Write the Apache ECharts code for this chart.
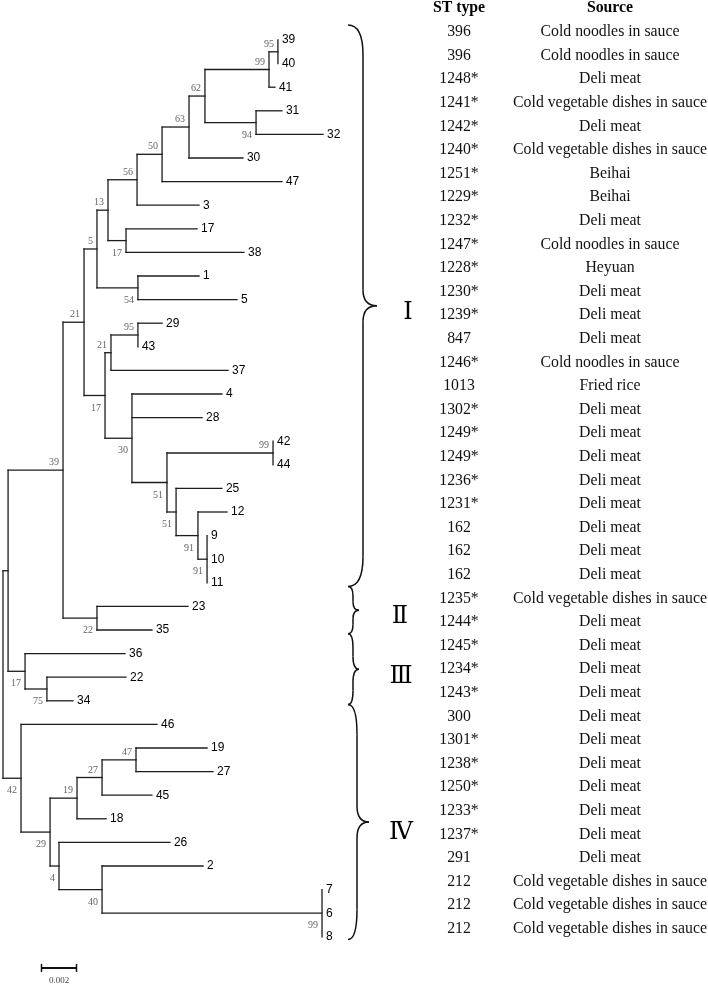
<!DOCTYPE html>
<html><head><meta charset="utf-8">
<script src="https://cdn.jsdelivr.net/npm/echarts@6/dist/echarts.min.js"></script>
<style>html,body{margin:0;padding:0;background:#fff}#c{width:708px;height:986px}</style>
</head><body><div id="c"></div><script>
// ---------- DATA ----------
// Leaves, top to bottom
const leafNames = ['39','40','41','31','32','30','47','3','17','38','1','5','29','43','37','4','28','42','44','25','12','9','10','11','23','35','36','22','34','46','19','27','45','18','26','2','7','6','8'];
const leafParent = ['N95a','N95a','N99a','N94','N94','N63','N50','N56','N17a','N17a','N54','N54','N95b','N95b','N21b','N30','N30','N99b','N99b','N51b','N91a','N91b','N91b','N91b','N22','N22','N17c','N75','N75','N42','N47','N47','N27','N19','N4','N40','N99c','N99c','N99c'];
// cumulative distance from root (substitutions/site)
const leafDepth = [0.01571,0.01571,0.01554,0.01594,0.01829,0.01371,0.01594,0.01120,0.01109,0.01377,0.01120,0.01337,0.00909,0.00771,0.01286,0.01251,0.01137,0.01543,0.01543,0.01251,0.01280,0.01166,0.01166,0.01166,0.01057,0.00851,0.00697,0.00703,0.00400,0.00880,0.01166,0.01200,0.00851,0.00589,0.00954,0.01143,0.01823,0.01823,0.01823];
// Internal nodes
const nodeIds = ['root','NX','N39','N21','N5','N13','N56','N50','N63','N62','N99a','N95a','N94','N17a','N54','N17b','N21b','N95b','N30','N51a','N99b','N51b','N91a','N91b','N22','N17c','N75','N42','N29','N19','N27','N47','N4','N40','N99c'];
const nodeParent = [null,'root','NX','N39','N21','N5','N13','N56','N50','N63','N62','N99a','N62','N13','N5','N21','N17b','N21b','N17b','N30','N51a','N51a','N51b','N91a','N39','NX','N17c','root','N42','N29','N19','N27','N29','N4','N40'];
const nodeDepth = [0,0.00029,0.00343,0.00463,0.00537,0.00600,0.00766,0.00909,0.01063,0.01154,0.01520,0.01571,0.01446,0.00703,0.00771,0.00583,0.00617,0.00771,0.00737,0.00937,0.01543,0.00989,0.01114,0.01166,0.00537,0.00126,0.00251,0.00103,0.00269,0.00423,0.00566,0.00760,0.00320,0.00566,0.01823];
const nodeBootstrap = [null,null,39,21,5,13,56,50,63,62,99,95,94,17,54,17,21,95,30,51,99,51,91,91,22,17,75,42,29,19,27,47,4,40,99];
// Table
const tableHeaders = ['ST type','Source'];
const stTypes = ['396','396','1248*','1241*','1242*','1240*','1251*','1229*','1232*','1247*','1228*','1230*','1239*','847','1246*','1013','1302*','1249*','1249*','1236*','1231*','162','162','162','1235*','1244*','1245*','1234*','1243*','300','1301*','1238*','1250*','1233*','1237*','291','212','212','212'];
const sources = ['Cold noodles in sauce','Cold noodles in sauce','Deli meat','Cold vegetable dishes in sauce','Deli meat','Cold vegetable dishes in sauce','Beihai','Beihai','Deli meat','Cold noodles in sauce','Heyuan','Deli meat','Deli meat','Deli meat','Cold noodles in sauce','Fried rice','Deli meat','Deli meat','Deli meat','Deli meat','Deli meat','Deli meat','Deli meat','Deli meat','Cold vegetable dishes in sauce','Deli meat','Deli meat','Deli meat','Deli meat','Deli meat','Deli meat','Deli meat','Deli meat','Deli meat','Deli meat','Deli meat','Cold vegetable dishes in sauce','Cold vegetable dishes in sauce','Cold vegetable dishes in sauce'];
// Clusters (brace extents in table-row units)
const cladeNames = ['\u2160','\u2161','\u2162','\u2163'];
const cladeTop = [-0.3, 23.5, 25.5, 28.5];
const cladeBottom = [23.5, 25.5, 28.5, 38.45];
// Scale bar
const scaleBarLength = 0.002;
const scaleBarLabel = '0.002';

// ---------- STYLE ----------
const S = {
  line: '#1c1c1c', lw: 1.3,
  leafFont: 'Liberation Sans, Arial, sans-serif', leafSize: 12,
  bootFont: 'Liberation Serif, Times New Roman, serif', bootSize: 10, bootColor: '#666',
  tabFont: 'Liberation Serif, Times New Roman, serif', tabSize: 15.8,
  rowShift: -0.34,
  colX: [459, 610],
  braceHookX: 348, braceVX: [363, 353, 353, 357], braceTipX: [377, 359, 359, 369],
  romanX: [408, 400, 401, 401], romanDy: [7, 7, 8, 11], romanSize: 24,
  scaleX0: 0.0022, scaleRow: 39.32
};

// ---------- TREE LAYOUT ----------
const idx = {}; nodeIds.forEach((id, i) => idx[id] = i);
const kids = nodeIds.map(() => []);
leafNames.forEach((n, i) => kids[idx[leafParent[i]]].push({leaf: true, i}));
nodeParent.forEach((p, i) => { if (p) kids[idx[p]].push({leaf: false, i}); });
const nodeY = new Array(nodeIds.length);
const childY = nodeIds.map(() => []);
function yOf(i) {
  if (nodeY[i] !== undefined) return nodeY[i];
  const ys = kids[i].map(k => k.leaf ? k.i : yOf(k.i));
  childY[i] = ys;
  nodeY[i] = (Math.min(...ys) + Math.max(...ys)) / 2;
  return nodeY[i];
}
nodeIds.forEach((_, i) => yOf(i));

const segments = [];
leafNames.forEach((n, i) => {
  const p = idx[leafParent[i]];
  segments.push([nodeDepth[p], i, leafDepth[i], i]);
});
nodeIds.forEach((id, i) => {
  const ys = childY[i];
  segments.push([nodeDepth[i], Math.min(...ys), nodeDepth[i], Math.max(...ys)]);
  if (nodeParent[i]) {
    const p = idx[nodeParent[i]];
    segments.push([nodeDepth[p], nodeY[i], nodeDepth[i], nodeY[i]]);
  }
});

const bootData = [], bootText = [], bootAbove = [];
nodeIds.forEach((id, i) => {
  if (nodeBootstrap[i] == null) return;
  const p = idx[nodeParent[i]];
  bootData.push([nodeDepth[i], nodeY[i]]);
  bootText.push(String(nodeBootstrap[i]));
  bootAbove.push(nodeY[i] < nodeY[p]);
});

const chart = echarts.init(document.getElementById('c'), null, {renderer: 'canvas'});
const txt = (x, y, text, o) => ({type: 'text', style: Object.assign({x, y, text, align: 'left', verticalAlign: 'middle', fill: '#000'}, o)});

chart.setOption({
  backgroundColor: '#fff',
  animation: false,
  grid: {left: 3, top: 16.4, width: 700, height: 967.6, containLabel: false},
  xAxis: {type: 'value', min: 0, max: 0.04, show: false},
  yAxis: {type: 'value', min: -1, max: 40, inverse: true, show: false},
  series: [
    { // branches
      type: 'custom', clip: false, data: segments,
      renderItem: (p, api) => {
        const a = api.coord([api.value(0), api.value(1)]);
        const b = api.coord([api.value(2), api.value(3)]);
        return {type: 'line', shape: {x1: a[0], y1: a[1], x2: b[0], y2: b[1]},
          style: {stroke: S.line, lineWidth: S.lw, lineCap: 'square'}};
      }
    },
    { // leaf labels
      type: 'custom', clip: false, data: leafNames.map((n, i) => [leafDepth[i], i]),
      renderItem: (p, api) => {
        const a = api.coord([api.value(0), api.value(1)]);
        return txt(a[0] + 4, a[1], leafNames[p.dataIndex], {fontFamily: S.leafFont, fontSize: S.leafSize});
      }
    },
    { // bootstrap values
      type: 'custom', clip: false, data: bootData,
      renderItem: (p, api) => {
        const a = api.coord([api.value(0), api.value(1)]);
        const up = bootAbove[p.dataIndex];
        return txt(a[0] - 4, a[1] + (up ? -7.5 : 12.5), bootText[p.dataIndex],
          {align: 'right', fontFamily: S.bootFont, fontSize: S.bootSize, fill: S.bootColor});
      }
    },
    { // table
      type: 'custom', clip: false, data: stTypes.map((s, i) => [0, i]),
      renderItem: (p, api) => {
        const y = api.coord([0, api.value(1) + S.rowShift])[1];
        const i = p.dataIndex;
        const children = [
          txt(S.colX[0], y, stTypes[i], {align: 'center', fontFamily: S.tabFont, fontSize: S.tabSize, fill: '#111'}),
          txt(S.colX[1], y, sources[i], {align: 'center', fontFamily: S.tabFont, fontSize: S.tabSize, fill: '#111'})
        ];
        if (i === 0) {
          const yh = api.coord([0, -1 + S.rowShift])[1];
          children.push(txt(S.colX[0], yh, tableHeaders[0], {align: 'center', fontFamily: S.tabFont, fontSize: S.tabSize, fontWeight: 'bold', fill: '#000'}));
          children.push(txt(S.colX[1], yh, tableHeaders[1], {align: 'center', fontFamily: S.tabFont, fontSize: S.tabSize, fontWeight: 'bold', fill: '#000'}));
        }
        return {type: 'group', children};
      }
    },
    { // braces + cluster names
      type: 'custom', clip: false, data: cladeNames.map((n, i) => [cladeTop[i], cladeBottom[i]]),
      renderItem: (p, api) => {
        const i = p.dataIndex;
        const y0 = api.coord([0, api.value(0) + S.rowShift])[1];
        const y1 = api.coord([0, api.value(1) + S.rowShift])[1];
        const ym = (y0 + y1) / 2, h = y1 - y0;
        const hx = S.braceHookX, vx = S.braceVX[i], tx = S.braceTipX[i];
        const r = Math.min(30, h * 0.2), r2 = Math.min(16, h * 0.18);
        const st = {stroke: '#111', lineWidth: 1.5, fill: 'none'};
        const bz = (x1, y1_, cx, cy, x2, y2) => ({type: 'bezierCurve', shape: {x1, y1: y1_, cpx1: cx, cpy1: cy, x2, y2}, style: st});
        const ln = (x1, y1_, x2, y2) => ({type: 'line', shape: {x1, y1: y1_, x2, y2}, style: st});
        return {type: 'group', children: [
          bz(hx, y0, vx, y0, vx, y0 + r),
          ln(vx, y0 + r, vx, ym - r2),
          bz(vx, ym - r2, vx, ym, tx, ym),
          bz(tx, ym, vx, ym, vx, ym + r2),
          ln(vx, ym + r2, vx, y1 - r),
          bz(vx, y1 - r, vx, y1, hx, y1),
          txt(S.romanX[i], ym + S.romanDy[i], cladeNames[i], {align: 'center', fontFamily: 'Liberation Serif, DejaVu Serif, serif', fontSize: S.romanSize, fill: '#000'})
        ]};
      }
    },
    { // scale bar
      type: 'custom', clip: false, data: [[S.scaleX0, S.scaleRow, S.scaleX0 + scaleBarLength]],
      renderItem: (p, api) => {
        const a = api.coord([api.value(0), api.value(1)]);
        const b = api.coord([api.value(2), api.value(1)]);
        const st = {stroke: '#111', lineWidth: 2};
        return {type: 'group', children: [
          {type: 'line', shape: {x1: a[0], y1: a[1], x2: b[0], y2: b[1]}, style: st},
          {type: 'line', shape: {x1: a[0], y1: a[1] - 4, x2: a[0], y2: a[1] + 4}, style: {stroke: '#111', lineWidth: 1.5}},
          {type: 'line', shape: {x1: b[0], y1: b[1] - 4, x2: b[0], y2: b[1] + 4}, style: {stroke: '#111', lineWidth: 1.5}},
          txt((a[0] + b[0]) / 2, a[1] + 13, scaleBarLabel, {align: 'center', fontFamily: S.bootFont, fontSize: 9, fill: '#444'})
        ]};
      }
    }
  ]
});
</script></body></html>
